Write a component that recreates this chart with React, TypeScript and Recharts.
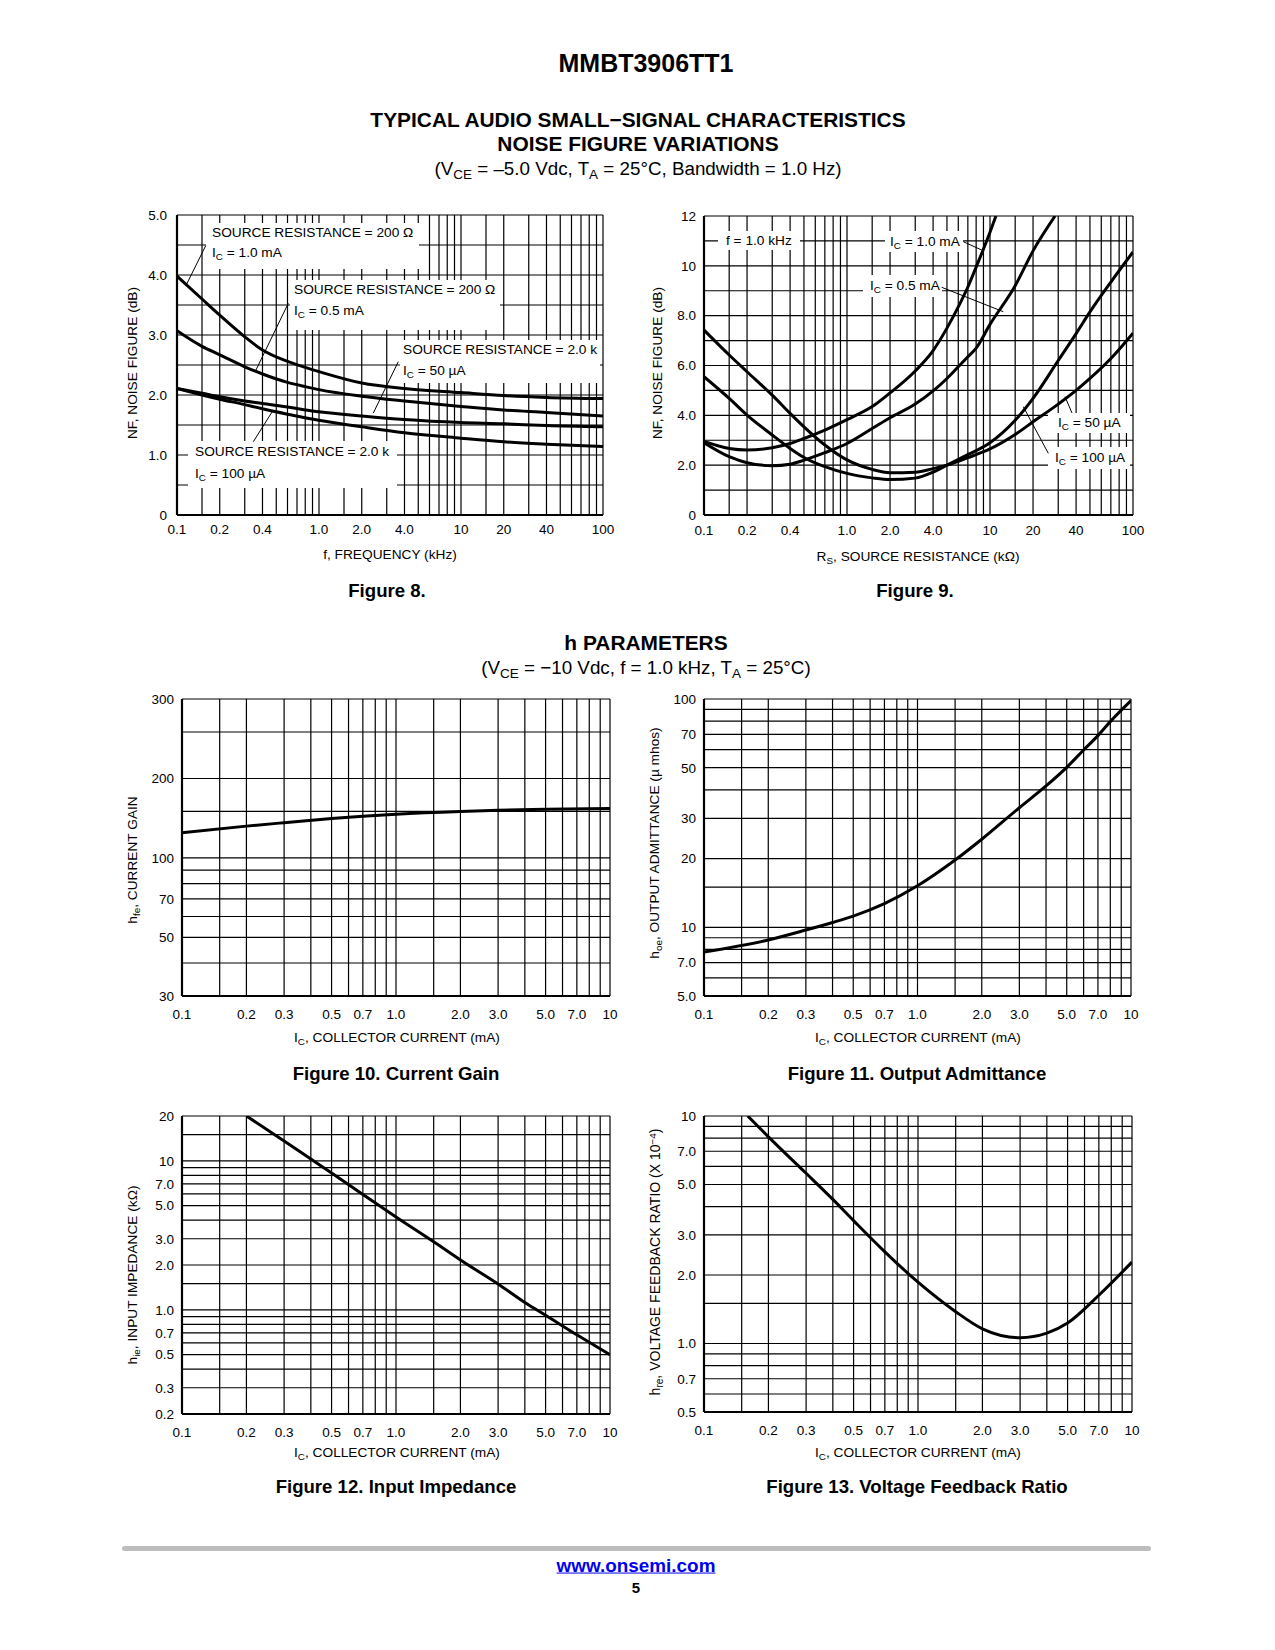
import React from "react";
import { LineChart, Line, XAxis, YAxis, CartesianGrid } from "recharts";

const FONT = "'Liberation Sans', Arial, Helvetica, sans-serif";

// ---- Figure 8: noise figure vs frequency ----
const freqKHz = [0.1, 0.15, 0.2, 0.3, 0.4, 0.6, 0.8, 1, 2, 4, 10, 20, 40, 100];
const nf200_1mA = [3.98, 3.6, 3.33, 2.97, 2.75, 2.56, 2.46, 2.39, 2.2, 2.11, 2.04, 1.99, 1.96, 1.94];
const nf200_05mA = [3.07, 2.81, 2.67, 2.47, 2.35, 2.21, 2.14, 2.09, 1.98, 1.9, 1.81, 1.75, 1.71, 1.65];
const nf2k_50uA = [2.11, 2.03, 1.97, 1.9, 1.86, 1.8, 1.75, 1.72, 1.65, 1.59, 1.54, 1.52, 1.49, 1.47];
const nf2k_100uA = [2.11, 2.0, 1.93, 1.84, 1.77, 1.68, 1.62, 1.58, 1.47, 1.37, 1.28, 1.22, 1.18, 1.14];

// ---- Figure 9: noise figure vs source resistance ----
const rs1mA = [0.1, 0.15, 0.2, 0.3, 0.4, 0.5, 0.7, 1, 1.5, 2, 3, 4, 5, 6, 7, 8, 10, 11];
const nf1mA = [2.95, 2.67, 2.61, 2.7, 2.87, 3.07, 3.41, 3.83, 4.35, 4.9, 5.78, 6.6, 7.5, 8.35, 9.15, 9.95, 11.35, 12];
const rs05mA = [0.1, 0.15, 0.2, 0.3, 0.4, 0.5, 0.7, 1, 1.5, 2, 3, 4, 5, 6, 7, 8, 10, 15, 20, 28.5];
const nf05mA = [2.9, 2.34, 2.1, 1.98, 2.04, 2.2, 2.5, 2.87, 3.47, 3.9, 4.45, 4.98, 5.48, 5.95, 6.35, 6.7, 7.65, 9.2, 10.6, 12];
const rsLowIc = [0.1, 0.15, 0.2, 0.3, 0.4, 0.5, 0.7, 1, 1.5, 2, 3, 4, 5, 7, 10, 15, 20, 30, 40, 50, 70, 100];
const nf50uA = [7.42, 6.42, 5.75, 4.81, 4.08, 3.54, 2.81, 2.21, 1.83, 1.7, 1.72, 1.86, 2.0, 2.3, 2.65, 3.23, 3.74, 4.45, 5.0, 5.48, 6.28, 7.3];
const nf100uA = [5.55, 4.68, 4.01, 3.21, 2.67, 2.31, 1.94, 1.67, 1.49, 1.42, 1.48, 1.72, 2.0, 2.42, 2.9, 3.8, 4.68, 6.2, 7.28, 8.15, 9.35, 10.56];

// ---- h parameters ----
const icGain = [0.1, 0.2, 0.3, 0.5, 0.7, 1, 2, 3, 5, 10];
const hfe = [124.6, 132, 136, 141, 144, 146.5, 150, 151.5, 153, 154];
const icAdm = [0.1, 0.2, 0.3, 0.4, 0.5, 0.7, 1, 1.5, 2, 3, 4, 5, 6, 7, 8, 10];
const hoe = [7.8, 8.8, 9.73, 10.5, 11.2, 12.7, 15.2, 19.7, 24.3, 33.4, 41.6, 50.2, 59.8, 69.1, 79.6, 98.3];
const icImp = [0.2, 0.3, 0.4, 0.5, 0.7, 1, 1.5, 2, 3, 4, 5, 7, 10];
const hie = [20, 13.6, 10.3, 8.3, 5.95, 4.2, 2.86, 2.16, 1.49, 1.12, 0.92, 0.68, 0.5];
const icFb = [0.16, 0.2, 0.3, 0.4, 0.5, 0.7, 1, 1.5, 2, 3, 4, 5, 7, 10];
const hre = [10, 8.1, 5.6, 4.3, 3.47, 2.53, 1.86, 1.38, 1.16, 1.06, 1.11, 1.23, 1.63, 2.28];

// ---- ticks and grid ----
const nfXTicks = [0.1, 0.2, 0.4, 1, 2, 4, 10, 20, 40, 100];
const nfXLabels = ["0.1", "0.2", "0.4", "1.0", "2.0", "4.0", "10", "20", "40", "100"];
const nfXGrid = [
  0.1, 0.15, 0.2, 0.3, 0.4, 0.5, 0.6, 0.7, 0.8, 0.9,
  1, 1.5, 2, 3, 4, 5, 6, 7, 8, 9,
  10, 15, 20, 30, 40, 50, 60, 70, 80, 90, 100,
];
const icXTicks = [0.1, 0.2, 0.3, 0.5, 0.7, 1, 2, 3, 5, 7, 10];
const icXLabels = ["0.1", "0.2", "0.3", "0.5", "0.7", "1.0", "2.0", "3.0", "5.0", "7.0", "10"];
const icXGrid = [0.1, 0.15, 0.2, 0.3, 0.4, 0.5, 0.6, 0.7, 0.8, 0.9, 1, 1.5, 2, 3, 4, 5, 6, 7, 8, 9, 10];

const fig8YTicks = [0, 1, 2, 3, 4, 5];
const fig8YLabels = ["0", "1.0", "2.0", "3.0", "4.0", "5.0"];
const fig8YGrid = [0, 0.5, 1, 1.5, 2, 2.5, 3, 3.5, 4, 4.5, 5];
const fig9YTicks = [0, 2, 4, 6, 8, 10, 12];
const fig9YLabels = ["0", "2.0", "4.0", "6.0", "8.0", "10", "12"];
const fig9YGrid = [0, 1, 2, 3, 4, 5, 6, 7, 8, 9, 10, 11, 12];
const fig10YTicks = [30, 50, 70, 100, 200, 400];
const fig10YLabels = ["30", "50", "70", "100", "200", "300"];
const fig10YGrid = [30, 40, 50, 60, 70, 80, 90, 100, 150, 200, 300, 400];
const fig11YTicks = [5, 7, 10, 20, 30, 50, 70, 100];
const fig11YLabels = ["5.0", "7.0", "10", "20", "30", "50", "70", "100"];
const fig11YGrid = [5, 6, 7, 8, 9, 10, 15, 20, 30, 40, 50, 60, 70, 80, 90, 100];
const fig12YTicks = [0.2, 0.3, 0.5, 0.7, 1, 2, 3, 5, 7, 10, 20];
const fig12YLabels = ["0.2", "0.3", "0.5", "0.7", "1.0", "2.0", "3.0", "5.0", "7.0", "10", "20"];
const fig12YGrid = [0.2, 0.3, 0.4, 0.5, 0.6, 0.7, 0.8, 0.9, 1, 1.5, 2, 3, 4, 5, 6, 7, 8, 9, 10, 15, 20];
const fig13YTicks = [0.5, 0.7, 1, 2, 3, 5, 7, 10];
const fig13YLabels = ["0.5", "0.7", "1.0", "2.0", "3.0", "5.0", "7.0", "10"];
const fig13YGrid = [0.5, 0.6, 0.7, 0.8, 0.9, 1, 1.5, 2, 3, 4, 5, 6, 7, 8, 9, 10];

const toPoints = (xs: number[], ys: number[]) => xs.map((x, i) => ({ x, y: ys[i] }));

const Sub = ({ children }: any) => (
  <span style={{ fontSize: "0.72em", position: "relative", top: "0.3em" }}>{children}</span>
);

function Txt({ x, y, size = 13.7, bold = false, rotate = false, color = "#000", underline = false, children }: any) {
  return (
    <div
      style={{
        position: "absolute",
        left: x,
        top: y,
        transform: `translate(-50%, -50%)${rotate ? " rotate(-90deg)" : ""}`,
        fontSize: size,
        fontWeight: bold ? 700 : 400,
        lineHeight: 1,
        whiteSpace: "nowrap",
        color,
        textDecoration: underline ? "underline" : "none",
      }}
    >
      {children}
    </div>
  );
}

function Tag({ x, y, w, h, pad = 5, lh = 20, lines }: any) {
  return (
    <div
      style={{
        position: "absolute",
        left: x,
        top: y,
        width: w,
        height: h,
        background: "#fff",
        fontSize: 13.7,
        lineHeight: `${lh}px`,
        paddingLeft: pad,
        boxSizing: "border-box",
        whiteSpace: "nowrap",
      }}
    >
      {lines.map((l: any, i: number) => (
        <div key={i}>{l}</div>
      ))}
    </div>
  );
}

function Graph({ box, xDomain, xTicks, xLabels, xGrid, yScale, yDomain, yTicks, yLabels, yGrid, series, xGap = 4, yGap = 2 }: any) {
  const ML = 56;
  const MT = 12;
  const MR = 16;
  const MB = 34;
  const W = box.w + ML + MR;
  const H = box.h + MT + MB;
  const tickStyle = { fill: "#000", fontSize: 13.5, fontFamily: FONT };
  return (
    <div style={{ position: "absolute", left: box.x - ML, top: box.y - MT, width: W, height: H }}>
      <LineChart width={W} height={H} margin={{ top: MT, right: MR, bottom: 0, left: 0 }}>
        <CartesianGrid stroke="#000" strokeWidth={1.2} horizontalValues={yGrid} verticalValues={xGrid} />
        <XAxis
          type="number"
          dataKey="x"
          scale="log"
          domain={xDomain}
          ticks={xTicks}
          interval={0}
          allowDataOverflow
          height={MB}
          tickLine={false}
          tickMargin={xGap}
          axisLine={{ stroke: "#000", strokeWidth: 2.2 }}
          tick={tickStyle}
          tickFormatter={(v: number) => xLabels[xTicks.indexOf(v)] ?? String(v)}
        />
        <YAxis
          type="number"
          dataKey="y"
          scale={yScale}
          domain={yDomain}
          ticks={yTicks}
          interval={0}
          allowDataOverflow
          width={ML}
          tickLine={false}
          tickMargin={yGap}
          axisLine={{ stroke: "#000", strokeWidth: 2.2 }}
          tick={tickStyle}
          tickFormatter={(v: number) => yLabels[yTicks.indexOf(v)] ?? String(v)}
        />
        {series.map((d: any, i: number) => (
          <Line
            key={i}
            data={d}
            dataKey="y"
            type="monotone"
            stroke="#000"
            strokeWidth={3}
            dot={false}
            activeDot={false}
            isAnimationActive={false}
          />
        ))}
      </LineChart>
    </div>
  );
}

const fig8Box = { x: 177, y: 215, w: 426, h: 300 };
const fig9Box = { x: 704, y: 216, w: 429, h: 299 };
const fig10Box = { x: 182, y: 699, w: 428, h: 297 };
const fig11Box = { x: 704, y: 699, w: 427, h: 297 };
const fig12Box = { x: 182, y: 1116, w: 428, h: 298 };
const fig13Box = { x: 704, y: 1116, w: 428, h: 296 };

const leaders = [
  [205.7, 245.7, 186.7, 284],
  [288.3, 303.3, 255, 372],
  [398.3, 361.7, 373.3, 413],
  [253.3, 441.7, 273.3, 410],
  [963.3, 241.7, 981.7, 250],
  [941.7, 287.3, 1003.3, 311.7],
  [1072, 413, 1065, 396.7],
  [1048.3, 453.3, 1023.3, 406.7],
];

const icTitle = (
  <>
    I<Sub>C</Sub>, COLLECTOR CURRENT (mA)
  </>
);

export default function App() {
  return (
    <div
      style={{
        position: "absolute",
        left: 0,
        top: 0,
        width: 1275,
        height: 1650,
        background: "#fff",
        fontFamily: FONT,
        color: "#000",
      }}
    >
      <Txt x={646} y={63} size={25} bold>MMBT3906TT1</Txt>
      <Txt x={638} y={120} size={20.9} bold>TYPICAL AUDIO SMALL−SIGNAL CHARACTERISTICS</Txt>
      <Txt x={638} y={144} size={20.9} bold>NOISE FIGURE VARIATIONS</Txt>
      <Txt x={638} y={169} size={18.8}>
        (V<Sub>CE</Sub> = –5.0 Vdc, T<Sub>A</Sub> = 25°C, Bandwidth = 1.0 Hz)
      </Txt>

      <Graph
        box={fig8Box}
        xDomain={[0.1, 100]}
        xTicks={nfXTicks}
        xLabels={nfXLabels}
        xGrid={nfXGrid}
        yScale="linear"
        yDomain={[0, 5]}
        yTicks={fig8YTicks}
        yLabels={fig8YLabels}
        yGrid={fig8YGrid}
        xGap={3}
        yGap={4}
        series={[
          toPoints(freqKHz, nf200_1mA),
          toPoints(freqKHz, nf200_05mA),
          toPoints(freqKHz, nf2k_50uA),
          toPoints(freqKHz, nf2k_100uA),
        ]}
      />
      <Graph
        box={fig9Box}
        xDomain={[0.1, 100]}
        xTicks={nfXTicks}
        xLabels={nfXLabels}
        xGrid={nfXGrid}
        yScale="linear"
        yDomain={[0, 12]}
        yTicks={fig9YTicks}
        yLabels={fig9YLabels}
        yGrid={fig9YGrid}
        xGap={4}
        series={[
          toPoints(rs1mA, nf1mA),
          toPoints(rs05mA, nf05mA),
          toPoints(rsLowIc, nf50uA),
          toPoints(rsLowIc, nf100uA),
        ]}
      />
      <Graph
        box={fig10Box}
        xDomain={[0.1, 10]}
        xTicks={icXTicks}
        xLabels={icXLabels}
        xGrid={icXGrid}
        yScale="log"
        yDomain={[30, 400]}
        yTicks={fig10YTicks}
        yLabels={fig10YLabels}
        yGrid={fig10YGrid}
        xGap={7}
        series={[toPoints(icGain, hfe)]}
      />
      <Graph
        box={fig11Box}
        xDomain={[0.1, 10]}
        xTicks={icXTicks}
        xLabels={icXLabels}
        xGrid={icXGrid}
        yScale="log"
        yDomain={[5, 100]}
        yTicks={fig11YTicks}
        yLabels={fig11YLabels}
        yGrid={fig11YGrid}
        xGap={7}
        series={[toPoints(icAdm, hoe)]}
      />
      <Graph
        box={fig12Box}
        xDomain={[0.1, 10]}
        xTicks={icXTicks}
        xLabels={icXLabels}
        xGrid={icXGrid}
        yScale="log"
        yDomain={[0.2, 20]}
        yTicks={fig12YTicks}
        yLabels={fig12YLabels}
        yGrid={fig12YGrid}
        xGap={7}
        series={[toPoints(icImp, hie)]}
      />
      <Graph
        box={fig13Box}
        xDomain={[0.1, 10]}
        xTicks={icXTicks}
        xLabels={icXLabels}
        xGrid={icXGrid}
        yScale="log"
        yDomain={[0.5, 10]}
        yTicks={fig13YTicks}
        yLabels={fig13YLabels}
        yGrid={fig13YGrid}
        xGap={7}
        series={[toPoints(icFb, hre)]}
      />

      {/* annotation boxes, figure 8 */}
      <Tag x={206} y={223} w={213} h={46} pad={6} lh={20} lines={[
        <>SOURCE RESISTANCE = 200 Ω</>,
        <>I<Sub>C</Sub> = 1.0 mA</>,
      ]} />
      <Tag x={290} y={280} w={210} h={50} pad={4} lh={20.6} lines={[
        <>SOURCE RESISTANCE = 200 Ω</>,
        <>I<Sub>C</Sub> = 0.5 mA</>,
      ]} />
      <Tag x={400} y={340} w={200} h={43} pad={3} lh={20.7} lines={[
        <>SOURCE RESISTANCE = 2.0 k</>,
        <>I<Sub>C</Sub> = 50 µA</>,
      ]} />
      <Tag x={188} y={441} w={209} h={47} pad={7} lh={22} lines={[
        <>SOURCE RESISTANCE = 2.0 k</>,
        <>I<Sub>C</Sub> = 100 µA</>,
      ]} />

      {/* annotation boxes, figure 9 */}
      <Tag x={718} y={231} w={82} h={19} pad={8} lh={19} lines={[<>f = 1.0 kHz</>]} />
      <Tag x={885} y={231} w={78} h={21} pad={5} lh={21} lines={[<>I<Sub>C</Sub> = 1.0 mA</>]} />
      <Tag x={863} y={275} w={79} h={22} pad={7} lh={22} lines={[<>I<Sub>C</Sub> = 0.5 mA</>]} />
      <Tag x={1048} y={413} w={82} h={20} pad={10} lh={20} lines={[<>I<Sub>C</Sub> = 50 µA</>]} />
      <Tag x={1048} y={447} w={82} h={22} pad={7} lh={22} lines={[<>I<Sub>C</Sub> = 100 µA</>]} />

      <svg width={1275} height={1650} style={{ position: "absolute", left: 0, top: 0, pointerEvents: "none" }}>
        {leaders.map((l, i) => (
          <line key={i} x1={l[0]} y1={l[1]} x2={l[2]} y2={l[3]} stroke="#000" strokeWidth={1} />
        ))}
      </svg>

      {/* axis titles */}
      <Txt x={390} y={555}>f, FREQUENCY (kHz)</Txt>
      <Txt x={133} y={363} rotate>NF, NOISE FIGURE (dB)</Txt>
      <Txt x={918} y={557}>
        R<Sub>S</Sub>, SOURCE RESISTANCE (kΩ)
      </Txt>
      <Txt x={658} y={363} rotate>NF, NOISE FIGURE (dB)</Txt>

      <Txt x={397} y={1038}>{icTitle}</Txt>
      <Txt x={133} y={860} rotate>
        h<Sub>fe</Sub>, CURRENT GAIN
      </Txt>
      <Txt x={918} y={1038}>{icTitle}</Txt>
      <Txt x={655} y={843} rotate>
        h<Sub>oe</Sub>, OUTPUT ADMITTANCE (µ mhos)
      </Txt>
      <Txt x={397} y={1453}>{icTitle}</Txt>
      <Txt x={133} y={1275} rotate>
        h<Sub>ie</Sub>, INPUT IMPEDANCE (kΩ)
      </Txt>
      <Txt x={918} y={1453}>{icTitle}</Txt>
      <Txt x={655} y={1262} size={14} rotate>
        h<Sub>re</Sub>, VOLTAGE FEEDBACK RATIO (X 10
        <span style={{ fontSize: "0.7em", position: "relative", top: "-0.45em" }}>−4</span>)
      </Txt>

      {/* captions */}
      <Txt x={387} y={591} size={18.6} bold>Figure 8.</Txt>
      <Txt x={915} y={591} size={18.6} bold>Figure 9.</Txt>
      <Txt x={646} y={643} size={20.9} bold>h PARAMETERS</Txt>
      <Txt x={646} y={668} size={18.8}>
        (V<Sub>CE</Sub> = −10 Vdc, f = 1.0 kHz, T<Sub>A</Sub> = 25°C)
      </Txt>
      <Txt x={396} y={1074} size={18.6} bold>Figure 10. Current Gain</Txt>
      <Txt x={917} y={1074} size={18.6} bold>Figure 11. Output Admittance</Txt>
      <Txt x={396} y={1487} size={18.6} bold>Figure 12. Input Impedance</Txt>
      <Txt x={917} y={1487} size={18.6} bold>Figure 13. Voltage Feedback Ratio</Txt>

      {/* footer */}
      <div
        style={{
          position: "absolute",
          left: 122,
          top: 1546,
          width: 1029,
          height: 5,
          background: "#bdbdbd",
          borderRadius: 3,
        }}
      />
      <Txt x={636} y={1566} size={18.9} bold color="#0000ee" underline>www.onsemi.com</Txt>
      <Txt x={636} y={1587} size={15} bold>5</Txt>
    </div>
  );
}
